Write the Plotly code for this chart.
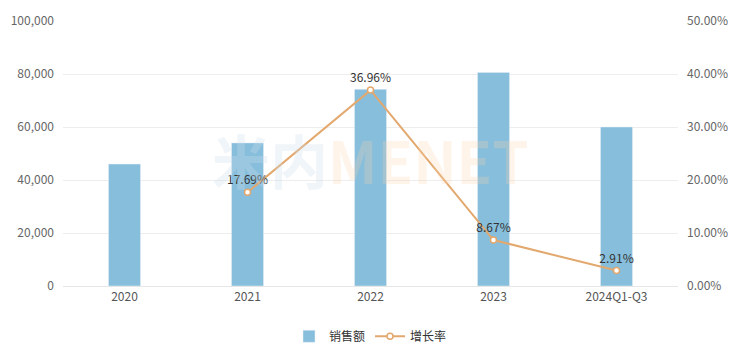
import plotly.graph_objects as go

categories = ["2020", "2021", "2022", "2023", "2024Q1-Q3"]
sales = [46000, 54000, 74200, 80600, 60000]
growth = [None, 17.69, 36.96, 8.67, 2.91]
growth_labels = ["", "17.69%", "36.96%", "8.67%", "2.91%"]

y1_ticks = [0, 20000, 40000, 60000, 80000, 100000]
y1_ticktext = ["0", "20,000", "40,000", "60,000", "80,000", "100,000"]
y2_ticks = [0, 10, 20, 30, 40, 50]
y2_ticktext = ["0.00%", "10.00%", "20.00%", "30.00%", "40.00%", "50.00%"]

BAR = "#86BEDC"
LINE = "#E2A86E"
FONT = "Noto Sans CJK SC, Noto Sans, sans-serif"

fig = go.Figure()
fig.add_trace(go.Bar(
    x=categories, y=sales, name="销售额", marker_color=BAR,
    width=0.26, yaxis="y",
))
fig.add_trace(go.Scatter(
    x=categories, y=growth, name="增长率", yaxis="y2",
    mode="lines+markers+text", text=growth_labels, textposition="top center",
    textfont=dict(size=12, color="#333333", family=FONT),
    line=dict(color=LINE, width=2),
    marker=dict(size=6, color="white", line=dict(color=LINE, width=1.5)),
))

fig.add_annotation(x=0.5, y=0.48, xref="paper", yref="paper",
                   text="<b><span style='color:rgba(205,222,235,0.3)'>米内</span><span style='color:rgba(250,210,170,0.25)'>MENET</span></b>",
                   showarrow=False, font=dict(size=58, family=FONT))

fig.update_layout(
    width=747, height=356,
    margin=dict(l=55, r=77, t=13, b=78, autoexpand=False),
    plot_bgcolor="white", paper_bgcolor="white",
    font=dict(family=FONT, size=12, color="#666666"),
    showlegend=True,
    legend=dict(orientation="h", x=0.5, xanchor="center", y=-0.135, yanchor="top",
                font=dict(size=12, color="#333333"), itemwidth=30),
    xaxis=dict(type="category", showgrid=False, showline=True, linecolor="#E6E6E6",
               ticks="", tickfont=dict(size=12, color="#555555"), automargin=False),
    yaxis=dict(range=[0, 100000], tickvals=y1_ticks, ticktext=y1_ticktext,
               showgrid=True, gridcolor="#EDEDED", zeroline=False, automargin=False,
               tickfont=dict(size=12, color="#666666"), ticklabelstandoff=8),
    yaxis2=dict(range=[0, 50], tickvals=y2_ticks, ticktext=y2_ticktext,
                overlaying="y", side="right", showgrid=False, zeroline=False, automargin=False,
                tickfont=dict(size=12, color="#666666"), ticklabelstandoff=8),
)

fig.write_html("out.html")
